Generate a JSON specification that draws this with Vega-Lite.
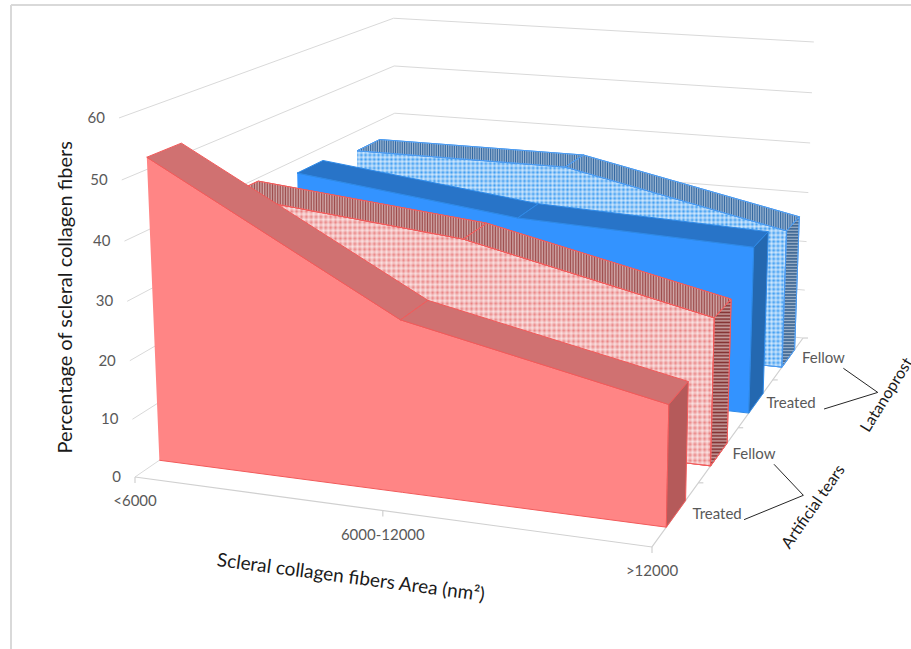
{
  "$schema": "https://vega.github.io/schema/vega-lite/v6.json",
  "width": 911,
  "height": 649,
  "padding": 0,
  "autosize": {"type": "none"},
  "background": "white",
  "config": {"view": {"stroke": null}, "text": {"font": "Lato"}},
  "datasets": {
    "readings": [
      {"group": "Latanoprost", "eye": "Fellow", "area": "<6000", "percent": 36},
      {"group": "Latanoprost", "eye": "Fellow", "area": "6000-12000", "percent": 36},
      {"group": "Latanoprost", "eye": "Fellow", "area": ">12000", "percent": 27},
      {"group": "Latanoprost", "eye": "Treated", "area": "<6000", "percent": 37.4},
      {"group": "Latanoprost", "eye": "Treated", "area": "6000-12000", "percent": 32.4},
      {"group": "Latanoprost", "eye": "Treated", "area": ">12000", "percent": 30.8},
      {"group": "Artificial tears", "eye": "Fellow", "area": "<6000", "percent": 39.4},
      {"group": "Artificial tears", "eye": "Fellow", "area": "6000-12000", "percent": 35.3},
      {"group": "Artificial tears", "eye": "Fellow", "area": ">12000", "percent": 25.8},
      {"group": "Artificial tears", "eye": "Treated", "area": "<6000", "percent": 52},
      {"group": "Artificial tears", "eye": "Treated", "area": "6000-12000", "percent": 29},
      {"group": "Artificial tears", "eye": "Treated", "area": ">12000", "percent": 20}
    ],
    "levels": [{"percent": 0}, {"percent": 10}, {"percent": 20}, {"percent": 30}, {"percent": 40}, {"percent": 50}, {"percent": 60}],
    "areas": [{"area": "<6000", "idx": 0}, {"area": "6000-12000", "idx": 1}, {"area": ">12000", "idx": 2}],
    "series": [
      {"group": "Artificial tears", "eye": "Treated", "slot": 0},
      {"group": "Artificial tears", "eye": "Fellow", "slot": 1},
      {"group": "Latanoprost", "eye": "Treated", "slot": 2},
      {"group": "Latanoprost", "eye": "Fellow", "slot": 3}
    ],
    "leaders": [
      {"group": "Artificial tears", "eye": "Fellow", "seq": 0, "slot": 1},
      {"group": "Artificial tears", "eye": "apex", "seq": 1, "slot": 0.5},
      {"group": "Artificial tears", "eye": "Treated", "seq": 2, "slot": 0},
      {"group": "Latanoprost", "eye": "Fellow", "seq": 0, "slot": 3},
      {"group": "Latanoprost", "eye": "apex", "seq": 1, "slot": 2.5},
      {"group": "Latanoprost", "eye": "Treated", "seq": 2, "slot": 2}
    ]
  },
  "encoding": {
    "x": {"field": "px", "type": "quantitative", "scale": {"domain": [0, 911], "nice": false, "zero": false}, "axis": null},
    "y": {"field": "py", "type": "quantitative", "scale": {"domain": [649, 0], "nice": false, "zero": false}, "axis": null}
  },
  "layer": [
    {
      "description": "chart area border, top edge",
      "data": {"values": [{"edge": "top"}]},
      "transform": [
        {"calculate": "11", "as": "px"},
        {"calculate": "911", "as": "px2"},
        {"calculate": "5", "as": "py"}
      ],
      "mark": {"type": "rule", "color": "#d9d9d9", "strokeWidth": 2},
      "encoding": {"x2": {"field": "px2"}}
    },
    {
      "description": "chart area border, left edge",
      "data": {"values": [{"edge": "left"}]},
      "transform": [
        {"calculate": "11", "as": "px"},
        {"calculate": "5", "as": "py"},
        {"calculate": "649", "as": "py2"}
      ],
      "mark": {"type": "rule", "color": "#d9d9d9", "strokeWidth": 2},
      "encoding": {"y2": {"field": "py2"}}
    },
    {
      "description": "wall gridlines: up the side wall, then along the back wall",
      "data": {"name": "levels"},
      "transform": [
        {"calculate": "[{seq:0,u:0,w:0},{seq:1,u:0,w:1},{seq:2,u:1,w:1}]", "as": "corners"},
        {"flatten": ["corners"], "as": ["corner"]},
        {"calculate": "datum.corner.u", "as": "u"},
        {"calculate": "datum.corner.w", "as": "w"},
        {"calculate": "datum.corner.seq", "as": "seq"},
        {"calculate": "datum.percent/60", "as": "v"},
        {"calculate": "1-0.0793*datum.u+0.3029*datum.w-0.042*datum.v", "as": "den"},
        {"calculate": "(465.3*datum.u+382.3*datum.w-21*datum.v+135)/datum.den", "as": "px"},
        {"calculate": "(26.6*datum.u-90*datum.w-364*datum.v+477)/datum.den", "as": "py"}
      ],
      "mark": {"type": "line", "color": "#d9d9d9", "strokeWidth": 1},
      "encoding": {"detail": {"field": "percent"}, "order": {"field": "seq", "type": "quantitative"}}
    },
    {
      "description": "floor edges under the category and series axes",
      "data": {"values": [{"seq": 0, "u": 0, "w": 0}, {"seq": 1, "u": 1, "w": 0}, {"seq": 2, "u": 1, "w": 1}]},
      "transform": [
        {"calculate": "1-0.0793*datum.u+0.3029*datum.w", "as": "den"},
        {"calculate": "(465.3*datum.u+382.3*datum.w+135)/datum.den", "as": "px"},
        {"calculate": "(26.6*datum.u-90*datum.w+477)/datum.den", "as": "py"}
      ],
      "mark": {"type": "line", "color": "#d0d0d0", "strokeWidth": 1.2},
      "encoding": {"order": {"field": "seq", "type": "quantitative"}}
    },
    {
      "description": "tick marks on the category axis",
      "data": {"name": "areas"},
      "transform": [
        {"calculate": "datum.idx/2", "as": "u"},
        {"calculate": "1-0.0793*datum.u", "as": "den"},
        {"calculate": "(465.3*datum.u+135)/datum.den", "as": "px"},
        {"calculate": "(26.6*datum.u+477)/datum.den", "as": "py"},
        {"calculate": "datum.py+6", "as": "py2"}
      ],
      "mark": {"type": "rule", "color": "#d0d0d0", "strokeWidth": 1.2},
      "encoding": {"y2": {"field": "py2"}}
    },
    {
      "description": "tick marks on the series axis",
      "data": {"values": [{"slot": 1}, {"slot": 2}, {"slot": 3}, {"slot": 4}]},
      "transform": [
        {"calculate": "datum.slot/4", "as": "w"},
        {"calculate": "0.9207+0.3029*datum.w", "as": "den"},
        {"calculate": "(600.3+382.3*datum.w)/datum.den", "as": "px"},
        {"calculate": "(503.6-90*datum.w)/datum.den", "as": "py"},
        {"calculate": "datum.px+5", "as": "px2"}
      ],
      "mark": {"type": "rule", "color": "#d0d0d0", "strokeWidth": 1.2},
      "encoding": {"x2": {"field": "px2"}}
    },
    {
      "description": "the four extruded area series, furthest first: every reading adds its front, top and end faces; the Fellow series carry two translucent stripe coats that read as a dotted fill",
      "data": {"name": "readings"},
      "transform": [
        {"calculate": "indexof(['<6000','6000-12000','>12000'],datum.area)", "as": "idx"},
        {"calculate": "datum.group+' '+datum.eye", "as": "name"},
        {"window": [{"op": "lead", "field": "percent", "as": "next"}], "groupby": ["name"], "sort": [{"field": "idx", "order": "ascending"}]},
        {"calculate": "(indexof(['Artificial tears Treated','Artificial tears Fellow','Latanoprost Treated','Latanoprost Fellow'],datum.name)+0.5)*0.25", "as": "mid"},
        {"calculate": "datum.mid-0.052", "as": "near"},
        {"calculate": "datum.mid+0.052", "as": "far"},
        {"calculate": "datum.idx/2", "as": "here"},
        {"calculate": "datum.idx<2 ? [{f:'front',s:0,seq:datum.idx,u:datum.here,w:datum.near,p:datum.percent},{f:'front',s:0,seq:5-datum.idx,u:datum.here,w:datum.near,p:0},{f:'top',s:datum.idx,seq:0,u:datum.here,w:datum.near,p:datum.percent},{f:'top',s:datum.idx,seq:1,u:datum.here+0.5,w:datum.near,p:datum.next},{f:'top',s:datum.idx,seq:2,u:datum.here+0.5,w:datum.far,p:datum.next},{f:'top',s:datum.idx,seq:3,u:datum.here,w:datum.far,p:datum.percent},{f:'top',s:datum.idx,seq:4,u:datum.here,w:datum.near,p:datum.percent}] : [{f:'front',s:0,seq:datum.idx,u:datum.here,w:datum.near,p:datum.percent},{f:'front',s:0,seq:5-datum.idx,u:datum.here,w:datum.near,p:0},{f:'side',s:0,seq:0,u:1,w:datum.near,p:datum.percent},{f:'side',s:0,seq:1,u:1,w:datum.far,p:datum.percent},{f:'side',s:0,seq:2,u:1,w:datum.far,p:0},{f:'side',s:0,seq:3,u:1,w:datum.near,p:0},{f:'side',s:0,seq:4,u:1,w:datum.near,p:datum.percent}]", "as": "corners"},
        {"flatten": ["corners"], "as": ["corner"]},
        {"calculate": "datum.eye=='Fellow' ? (datum.corner.f=='front' ? ['base','across','down'] : datum.corner.f=='top' ? ['base','across'] : ['base','down']) : ['base']", "as": "coats"},
        {"flatten": ["coats"], "as": ["coat"]},
        {"calculate": "datum.corner.u", "as": "u"},
        {"calculate": "datum.corner.w", "as": "w"},
        {"calculate": "datum.corner.seq", "as": "seq"},
        {"calculate": "datum.corner.p/60", "as": "v"},
        {"calculate": "datum.name+' '+datum.corner.f", "as": "paint"},
        {"calculate": "datum.paint+' '+datum.corner.s+' '+datum.coat", "as": "polygon"},
        {"calculate": "1-0.0793*datum.u+0.3029*datum.w-0.042*datum.v", "as": "den"},
        {"calculate": "(465.3*datum.u+382.3*datum.w-21*datum.v+135)/datum.den", "as": "px"},
        {"calculate": "(26.6*datum.u-90*datum.w-364*datum.v+477)/datum.den", "as": "py"}
      ],
      "mark": {"type": "line", "strokeWidth": 1, "interpolate": "linear"},
      "encoding": {
        "detail": {"field": "polygon"},
        "order": {"field": "seq", "type": "quantitative"},
        "fill": {
          "condition": [
            {"test": "datum.coat=='across'", "value": {"gradient": "linear", "x1": 0, "y1": 0, "x2": 1, "y2": 0, "stops": [
              {"offset":0,"color":"#fff0"},{"offset":0.005,"color":"#fff8"},{"offset":0.01,"color":"#fff0"},{"offset":0.015,"color":"#fff8"},{"offset":0.02,"color":"#fff0"},{"offset":0.025,"color":"#fff8"},{"offset":0.03,"color":"#fff0"},{"offset":0.035,"color":"#fff8"},{"offset":0.04,"color":"#fff0"},{"offset":0.045,"color":"#fff8"},
              {"offset":0.05,"color":"#fff0"},{"offset":0.055,"color":"#fff8"},{"offset":0.06,"color":"#fff0"},{"offset":0.065,"color":"#fff8"},{"offset":0.07,"color":"#fff0"},{"offset":0.075,"color":"#fff8"},{"offset":0.08,"color":"#fff0"},{"offset":0.085,"color":"#fff8"},{"offset":0.09,"color":"#fff0"},{"offset":0.095,"color":"#fff8"},
              {"offset":0.1,"color":"#fff0"},{"offset":0.105,"color":"#fff8"},{"offset":0.11,"color":"#fff0"},{"offset":0.115,"color":"#fff8"},{"offset":0.12,"color":"#fff0"},{"offset":0.125,"color":"#fff8"},{"offset":0.13,"color":"#fff0"},{"offset":0.135,"color":"#fff8"},{"offset":0.14,"color":"#fff0"},{"offset":0.145,"color":"#fff8"},
              {"offset":0.15,"color":"#fff0"},{"offset":0.155,"color":"#fff8"},{"offset":0.16,"color":"#fff0"},{"offset":0.165,"color":"#fff8"},{"offset":0.17,"color":"#fff0"},{"offset":0.175,"color":"#fff8"},{"offset":0.18,"color":"#fff0"},{"offset":0.185,"color":"#fff8"},{"offset":0.19,"color":"#fff0"},{"offset":0.195,"color":"#fff8"},
              {"offset":0.2,"color":"#fff0"},{"offset":0.205,"color":"#fff8"},{"offset":0.21,"color":"#fff0"},{"offset":0.215,"color":"#fff8"},{"offset":0.22,"color":"#fff0"},{"offset":0.225,"color":"#fff8"},{"offset":0.23,"color":"#fff0"},{"offset":0.235,"color":"#fff8"},{"offset":0.24,"color":"#fff0"},{"offset":0.245,"color":"#fff8"},
              {"offset":0.25,"color":"#fff0"},{"offset":0.255,"color":"#fff8"},{"offset":0.26,"color":"#fff0"},{"offset":0.265,"color":"#fff8"},{"offset":0.27,"color":"#fff0"},{"offset":0.275,"color":"#fff8"},{"offset":0.28,"color":"#fff0"},{"offset":0.285,"color":"#fff8"},{"offset":0.29,"color":"#fff0"},{"offset":0.295,"color":"#fff8"},
              {"offset":0.3,"color":"#fff0"},{"offset":0.305,"color":"#fff8"},{"offset":0.31,"color":"#fff0"},{"offset":0.315,"color":"#fff8"},{"offset":0.32,"color":"#fff0"},{"offset":0.325,"color":"#fff8"},{"offset":0.33,"color":"#fff0"},{"offset":0.335,"color":"#fff8"},{"offset":0.34,"color":"#fff0"},{"offset":0.345,"color":"#fff8"},
              {"offset":0.35,"color":"#fff0"},{"offset":0.355,"color":"#fff8"},{"offset":0.36,"color":"#fff0"},{"offset":0.365,"color":"#fff8"},{"offset":0.37,"color":"#fff0"},{"offset":0.375,"color":"#fff8"},{"offset":0.38,"color":"#fff0"},{"offset":0.385,"color":"#fff8"},{"offset":0.39,"color":"#fff0"},{"offset":0.395,"color":"#fff8"},
              {"offset":0.4,"color":"#fff0"},{"offset":0.405,"color":"#fff8"},{"offset":0.41,"color":"#fff0"},{"offset":0.415,"color":"#fff8"},{"offset":0.42,"color":"#fff0"},{"offset":0.425,"color":"#fff8"},{"offset":0.43,"color":"#fff0"},{"offset":0.435,"color":"#fff8"},{"offset":0.44,"color":"#fff0"},{"offset":0.445,"color":"#fff8"},
              {"offset":0.45,"color":"#fff0"},{"offset":0.455,"color":"#fff8"},{"offset":0.46,"color":"#fff0"},{"offset":0.465,"color":"#fff8"},{"offset":0.47,"color":"#fff0"},{"offset":0.475,"color":"#fff8"},{"offset":0.48,"color":"#fff0"},{"offset":0.485,"color":"#fff8"},{"offset":0.49,"color":"#fff0"},{"offset":0.495,"color":"#fff8"},
              {"offset":0.5,"color":"#fff0"},{"offset":0.505,"color":"#fff8"},{"offset":0.51,"color":"#fff0"},{"offset":0.515,"color":"#fff8"},{"offset":0.52,"color":"#fff0"},{"offset":0.525,"color":"#fff8"},{"offset":0.53,"color":"#fff0"},{"offset":0.535,"color":"#fff8"},{"offset":0.54,"color":"#fff0"},{"offset":0.545,"color":"#fff8"},
              {"offset":0.55,"color":"#fff0"},{"offset":0.555,"color":"#fff8"},{"offset":0.56,"color":"#fff0"},{"offset":0.565,"color":"#fff8"},{"offset":0.57,"color":"#fff0"},{"offset":0.575,"color":"#fff8"},{"offset":0.58,"color":"#fff0"},{"offset":0.585,"color":"#fff8"},{"offset":0.59,"color":"#fff0"},{"offset":0.595,"color":"#fff8"},
              {"offset":0.6,"color":"#fff0"},{"offset":0.605,"color":"#fff8"},{"offset":0.61,"color":"#fff0"},{"offset":0.615,"color":"#fff8"},{"offset":0.62,"color":"#fff0"},{"offset":0.625,"color":"#fff8"},{"offset":0.63,"color":"#fff0"},{"offset":0.635,"color":"#fff8"},{"offset":0.64,"color":"#fff0"},{"offset":0.645,"color":"#fff8"},
              {"offset":0.65,"color":"#fff0"},{"offset":0.655,"color":"#fff8"},{"offset":0.66,"color":"#fff0"},{"offset":0.665,"color":"#fff8"},{"offset":0.67,"color":"#fff0"},{"offset":0.675,"color":"#fff8"},{"offset":0.68,"color":"#fff0"},{"offset":0.685,"color":"#fff8"},{"offset":0.69,"color":"#fff0"},{"offset":0.695,"color":"#fff8"},
              {"offset":0.7,"color":"#fff0"},{"offset":0.705,"color":"#fff8"},{"offset":0.71,"color":"#fff0"},{"offset":0.715,"color":"#fff8"},{"offset":0.72,"color":"#fff0"},{"offset":0.725,"color":"#fff8"},{"offset":0.73,"color":"#fff0"},{"offset":0.735,"color":"#fff8"},{"offset":0.74,"color":"#fff0"},{"offset":0.745,"color":"#fff8"},
              {"offset":0.75,"color":"#fff0"},{"offset":0.755,"color":"#fff8"},{"offset":0.76,"color":"#fff0"},{"offset":0.765,"color":"#fff8"},{"offset":0.77,"color":"#fff0"},{"offset":0.775,"color":"#fff8"},{"offset":0.78,"color":"#fff0"},{"offset":0.785,"color":"#fff8"},{"offset":0.79,"color":"#fff0"},{"offset":0.795,"color":"#fff8"},
              {"offset":0.8,"color":"#fff0"},{"offset":0.805,"color":"#fff8"},{"offset":0.81,"color":"#fff0"},{"offset":0.815,"color":"#fff8"},{"offset":0.82,"color":"#fff0"},{"offset":0.825,"color":"#fff8"},{"offset":0.83,"color":"#fff0"},{"offset":0.835,"color":"#fff8"},{"offset":0.84,"color":"#fff0"},{"offset":0.845,"color":"#fff8"},
              {"offset":0.85,"color":"#fff0"},{"offset":0.855,"color":"#fff8"},{"offset":0.86,"color":"#fff0"},{"offset":0.865,"color":"#fff8"},{"offset":0.87,"color":"#fff0"},{"offset":0.875,"color":"#fff8"},{"offset":0.88,"color":"#fff0"},{"offset":0.885,"color":"#fff8"},{"offset":0.89,"color":"#fff0"},{"offset":0.895,"color":"#fff8"},
              {"offset":0.9,"color":"#fff0"},{"offset":0.905,"color":"#fff8"},{"offset":0.91,"color":"#fff0"},{"offset":0.915,"color":"#fff8"},{"offset":0.92,"color":"#fff0"},{"offset":0.925,"color":"#fff8"},{"offset":0.93,"color":"#fff0"},{"offset":0.935,"color":"#fff8"},{"offset":0.94,"color":"#fff0"},{"offset":0.945,"color":"#fff8"},
              {"offset":0.95,"color":"#fff0"},{"offset":0.955,"color":"#fff8"},{"offset":0.96,"color":"#fff0"},{"offset":0.965,"color":"#fff8"},{"offset":0.97,"color":"#fff0"},{"offset":0.975,"color":"#fff8"},{"offset":0.98,"color":"#fff0"},{"offset":0.985,"color":"#fff8"},{"offset":0.99,"color":"#fff0"},{"offset":0.995,"color":"#fff8"},{"offset":1,"color":"#fff0"}
            ]}},
            {"test": "datum.coat=='down'", "value": {"gradient": "linear", "x1": 0, "y1": 0, "x2": 0, "y2": 1, "stops": [
              {"offset":0,"color":"#fff0"},{"offset":0.01,"color":"#fff8"},{"offset":0.02,"color":"#fff0"},{"offset":0.03,"color":"#fff8"},{"offset":0.04,"color":"#fff0"},{"offset":0.05,"color":"#fff8"},{"offset":0.06,"color":"#fff0"},{"offset":0.07,"color":"#fff8"},{"offset":0.08,"color":"#fff0"},{"offset":0.09,"color":"#fff8"},
              {"offset":0.1,"color":"#fff0"},{"offset":0.11,"color":"#fff8"},{"offset":0.12,"color":"#fff0"},{"offset":0.13,"color":"#fff8"},{"offset":0.14,"color":"#fff0"},{"offset":0.15,"color":"#fff8"},{"offset":0.16,"color":"#fff0"},{"offset":0.17,"color":"#fff8"},{"offset":0.18,"color":"#fff0"},{"offset":0.19,"color":"#fff8"},
              {"offset":0.2,"color":"#fff0"},{"offset":0.21,"color":"#fff8"},{"offset":0.22,"color":"#fff0"},{"offset":0.23,"color":"#fff8"},{"offset":0.24,"color":"#fff0"},{"offset":0.25,"color":"#fff8"},{"offset":0.26,"color":"#fff0"},{"offset":0.27,"color":"#fff8"},{"offset":0.28,"color":"#fff0"},{"offset":0.29,"color":"#fff8"},
              {"offset":0.3,"color":"#fff0"},{"offset":0.31,"color":"#fff8"},{"offset":0.32,"color":"#fff0"},{"offset":0.33,"color":"#fff8"},{"offset":0.34,"color":"#fff0"},{"offset":0.35,"color":"#fff8"},{"offset":0.36,"color":"#fff0"},{"offset":0.37,"color":"#fff8"},{"offset":0.38,"color":"#fff0"},{"offset":0.39,"color":"#fff8"},
              {"offset":0.4,"color":"#fff0"},{"offset":0.41,"color":"#fff8"},{"offset":0.42,"color":"#fff0"},{"offset":0.43,"color":"#fff8"},{"offset":0.44,"color":"#fff0"},{"offset":0.45,"color":"#fff8"},{"offset":0.46,"color":"#fff0"},{"offset":0.47,"color":"#fff8"},{"offset":0.48,"color":"#fff0"},{"offset":0.49,"color":"#fff8"},
              {"offset":0.5,"color":"#fff0"},{"offset":0.51,"color":"#fff8"},{"offset":0.52,"color":"#fff0"},{"offset":0.53,"color":"#fff8"},{"offset":0.54,"color":"#fff0"},{"offset":0.55,"color":"#fff8"},{"offset":0.56,"color":"#fff0"},{"offset":0.57,"color":"#fff8"},{"offset":0.58,"color":"#fff0"},{"offset":0.59,"color":"#fff8"},
              {"offset":0.6,"color":"#fff0"},{"offset":0.61,"color":"#fff8"},{"offset":0.62,"color":"#fff0"},{"offset":0.63,"color":"#fff8"},{"offset":0.64,"color":"#fff0"},{"offset":0.65,"color":"#fff8"},{"offset":0.66,"color":"#fff0"},{"offset":0.67,"color":"#fff8"},{"offset":0.68,"color":"#fff0"},{"offset":0.69,"color":"#fff8"},
              {"offset":0.7,"color":"#fff0"},{"offset":0.71,"color":"#fff8"},{"offset":0.72,"color":"#fff0"},{"offset":0.73,"color":"#fff8"},{"offset":0.74,"color":"#fff0"},{"offset":0.75,"color":"#fff8"},{"offset":0.76,"color":"#fff0"},{"offset":0.77,"color":"#fff8"},{"offset":0.78,"color":"#fff0"},{"offset":0.79,"color":"#fff8"},
              {"offset":0.8,"color":"#fff0"},{"offset":0.81,"color":"#fff8"},{"offset":0.82,"color":"#fff0"},{"offset":0.83,"color":"#fff8"},{"offset":0.84,"color":"#fff0"},{"offset":0.85,"color":"#fff8"},{"offset":0.86,"color":"#fff0"},{"offset":0.87,"color":"#fff8"},{"offset":0.88,"color":"#fff0"},{"offset":0.89,"color":"#fff8"},
              {"offset":0.9,"color":"#fff0"},{"offset":0.91,"color":"#fff8"},{"offset":0.92,"color":"#fff0"},{"offset":0.93,"color":"#fff8"},{"offset":0.94,"color":"#fff0"},{"offset":0.95,"color":"#fff8"},{"offset":0.96,"color":"#fff0"},{"offset":0.97,"color":"#fff8"},{"offset":0.98,"color":"#fff0"},{"offset":0.99,"color":"#fff8"},{"offset":1,"color":"#fff0"}
            ]}}
          ],
          "field": "paint",
          "type": "nominal",
          "legend": null,
          "scale": {
            "domain": [
              "Latanoprost Fellow front", "Latanoprost Fellow top", "Latanoprost Fellow side",
              "Latanoprost Treated front", "Latanoprost Treated top", "Latanoprost Treated side",
              "Artificial tears Fellow front", "Artificial tears Fellow top", "Artificial tears Fellow side",
              "Artificial tears Treated front", "Artificial tears Treated top", "Artificial tears Treated side"
            ],
            "range": [
              "#3a9bf2", "#3469a2", "#2a5788",
              "#3393ff", "#2874c8", "#2468b0",
              "#e98282", "#9e4c4c", "#843131",
              "#ff8585", "#d07171", "#b55a5a"
            ]
          }
        },
        "stroke": {
          "field": "name",
          "type": "nominal",
          "legend": null,
          "scale": {
            "domain": ["Latanoprost Fellow", "Latanoprost Treated", "Artificial tears Fellow", "Artificial tears Treated"],
            "range": ["#4a9af0", "#2f8ae8", "#f05a5a", "#f25a5a"]
          }
        }
      }
    },
    {
      "description": "value axis labels",
      "data": {"name": "levels"},
      "transform": [
        {"calculate": "datum.percent/60", "as": "v"},
        {"calculate": "1-0.042*datum.v", "as": "den"},
        {"calculate": "(135-21*datum.v)/datum.den", "as": "px"},
        {"calculate": "(477-364*datum.v)/datum.den", "as": "py"}
      ],
      "mark": {"type": "text", "align": "right", "baseline": "middle", "dx": -14, "fontSize": 15, "color": "#595959"},
      "encoding": {"text": {"field": "percent", "type": "quantitative"}}
    },
    {
      "description": "category labels",
      "data": {"name": "areas"},
      "transform": [
        {"calculate": "datum.idx/2", "as": "u"},
        {"calculate": "1-0.0793*datum.u", "as": "den"},
        {"calculate": "(465.3*datum.u+135)/datum.den", "as": "px"},
        {"calculate": "(26.6*datum.u+477)/datum.den", "as": "py"}
      ],
      "mark": {"type": "text", "align": "center", "baseline": "middle", "dy": 24, "fontSize": 15, "color": "#595959"},
      "encoding": {"text": {"field": "area"}}
    },
    {
      "description": "series labels",
      "data": {"name": "series"},
      "transform": [
        {"calculate": "(datum.slot+0.5)*0.25", "as": "w"},
        {"calculate": "0.9207+0.3029*datum.w", "as": "den"},
        {"calculate": "(600.3+382.3*datum.w)/datum.den+(datum.slot==0?41:35)", "as": "px"},
        {"calculate": "(503.6-90*datum.w)/datum.den", "as": "py"}
      ],
      "mark": {"type": "text", "align": "center", "baseline": "middle", "fontSize": 15, "color": "#595959"},
      "encoding": {"text": {"field": "eye"}}
    },
    {
      "description": "bracket lines tying each pair of series labels to its group",
      "data": {"name": "leaders"},
      "transform": [
        {"calculate": "(datum.slot+0.5)*0.25", "as": "w"},
        {"calculate": "0.9207+0.3029*datum.w", "as": "den"},
        {"calculate": "(600.3+382.3*datum.w)/datum.den+(datum.eye=='apex'?105:datum.eye=='Fellow'?55:68)", "as": "px"},
        {"calculate": "(503.6-90*datum.w)/datum.den+(datum.eye=='apex'?12.5:datum.eye=='Fellow'?10:6)", "as": "py"}
      ],
      "mark": {"type": "line", "color": "#262626", "strokeWidth": 1},
      "encoding": {"detail": {"field": "group"}, "order": {"field": "seq", "type": "quantitative"}}
    },
    {
      "data": {"values": [{"group": "Artificial tears", "slot": 0.5}]},
      "transform": [
        {"calculate": "(datum.slot+0.5)*0.25", "as": "w"},
        {"calculate": "0.9207+0.3029*datum.w", "as": "den"},
        {"calculate": "(600.3+382.3*datum.w)/datum.den+115", "as": "px"},
        {"calculate": "(503.6-90*datum.w)/datum.den+24", "as": "py"}
      ],
      "mark": {"type": "text", "align": "center", "baseline": "middle", "angle": 305, "fontSize": 16, "color": "#1a1a1a"},
      "encoding": {"text": {"field": "group"}}
    },
    {
      "data": {"values": [{"group": "Latanoprost", "slot": 2.5}]},
      "transform": [
        {"calculate": "(datum.slot+0.5)*0.25", "as": "w"},
        {"calculate": "0.9207+0.3029*datum.w", "as": "den"},
        {"calculate": "(600.3+382.3*datum.w)/datum.den+114", "as": "px"},
        {"calculate": "(503.6-90*datum.w)/datum.den+15", "as": "py"}
      ],
      "mark": {"type": "text", "align": "center", "baseline": "middle", "angle": 302, "fontSize": 16, "color": "#1a1a1a"},
      "encoding": {"text": {"field": "group"}}
    },
    {
      "description": "value axis title, placed from the middle of the side wall",
      "data": {"values": [{"title": "Percentage of scleral collagen fibers", "v": 0.5}]},
      "transform": [
        {"calculate": "1-0.042*datum.v", "as": "den"},
        {"calculate": "(135-21*datum.v)/datum.den-61", "as": "px"},
        {"calculate": "(477-364*datum.v)/datum.den-4", "as": "py"}
      ],
      "mark": {"type": "text", "align": "center", "baseline": "middle", "angle": 270, "fontSize": 20, "color": "#1a1a1a"},
      "encoding": {"text": {"field": "title"}}
    },
    {
      "description": "category axis title, placed from the middle of the front floor edge",
      "data": {"values": [{"title": "Scleral collagen fibers Area (nm²)", "u": 0.5}]},
      "transform": [
        {"calculate": "1-0.0793*datum.u", "as": "den"},
        {"calculate": "(465.3*datum.u+135)/datum.den-32", "as": "px"},
        {"calculate": "(26.6*datum.u+477)/datum.den+67", "as": "py"}
      ],
      "mark": {"type": "text", "align": "center", "baseline": "middle", "angle": 7.5, "fontSize": 19, "color": "#1a1a1a"},
      "encoding": {"text": {"field": "title"}}
    }
  ]
}
